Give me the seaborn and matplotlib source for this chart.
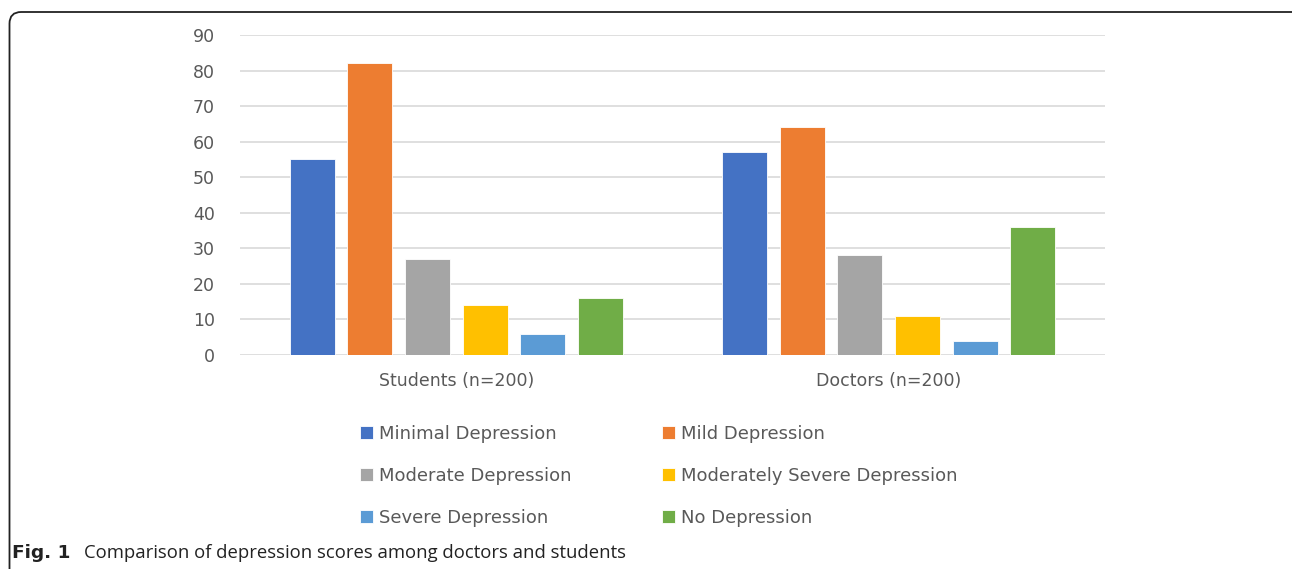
import matplotlib.pyplot as plt
import seaborn as sns
import pandas as pd
from matplotlib.patches import FancyBboxPatch

groups = ['Students (n=200)', 'Doctors (n=200)']
levels = ['Minimal Depression', 'Mild Depression', 'Moderate Depression',
          'Moderately Severe Depression', 'Severe Depression', 'No Depression']
students = [55, 82, 27, 14, 6, 16]
doctors = [57, 64, 28, 11, 4, 36]
colors = ['#4472C4', '#ED7D31', '#A5A5A5', '#FFC000', '#5B9BD5', '#70AD47']
yticks = [0, 10, 20, 30, 40, 50, 60, 70, 80, 90]

rows = []
for g, vals in zip(groups, [students, doctors]):
    for lvl, v in zip(levels, vals):
        rows.append({'group': g, 'level': lvl, 'count': v})
df = pd.DataFrame(rows)

sns.set_style('white')
plt.rcParams['font.family'] = ['DejaVu Sans']

W, H = 1292, 569
fig = plt.figure(figsize=(W / 100, H / 100), dpi=100)
ax = fig.add_axes([240 / W, 1 - 355 / H, 865 / W, 320 / H])

sns.barplot(data=df, x='group', y='count', hue='level', hue_order=levels,
            palette=colors, saturation=1, gap=0.22, width=0.8, ax=ax,
            edgecolor='white', linewidth=0.6, zorder=3)

ax.set_ylim(0, 90)
ax.set_yticks(yticks)
ax.set_xlim(-0.5, 1.5)
ax.grid(axis='y', color='#D9D9D9', linewidth=1.2, zorder=0)
ax.set_axisbelow(True)
for s in ax.spines.values():
    s.set_visible(False)
ax.set_xlabel('')
ax.set_ylabel('')
ax.tick_params(axis='both', length=0, labelsize=12.5, labelcolor='#595959')
ax.tick_params(axis='y', pad=18)
ax.tick_params(axis='x', pad=12)

handles, labels = ax.get_legend_handles_labels()
ax.legend_.remove()
order = [0, 2, 4, 1, 3, 5]
fig.legend([handles[i] for i in order], [labels[i] for i in order],
           ncol=2, loc='upper left', bbox_to_anchor=(351 / W, 1 - 416 / H),
           frameon=False, fontsize=13, handlelength=0.72, handleheight=0.72,
           handletextpad=0.35, columnspacing=5.0, labelspacing=1.33,
           labelcolor='#595959', borderpad=0)

# figure frame with rounded corners
frame = FancyBboxPatch((9.5 / W, -0.1), (W + 20) / W, (H - 12) / H + 0.1,
                       boxstyle='round,pad=0,rounding_size=0.009',
                       transform=fig.transFigure, fill=False,
                       edgecolor='#222222', linewidth=1.3, clip_on=False,
                       mutation_aspect=W / H)
fig.patches.append(frame)

fig.text(12 / W, 1 - 553 / H, 'Fig. 1', fontsize=13.3, fontweight='bold',
         family='DejaVu Sans', color='#222222', va='center')
fig.text(84 / W, 1 - 553 / H, 'Comparison of depression scores among doctors and students',
         fontsize=13.3, family='Open Sans', color='#222222', va='center')

fig.savefig('out.png', dpi=100)
